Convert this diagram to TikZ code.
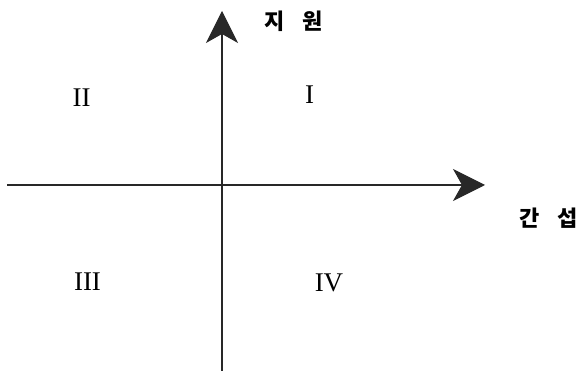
\documentclass[tikz,border=0pt]{standalone}
\usepackage{fontspec}
\setmainfont{Liberation Serif}
\newfontfamily\krfont{Noto Sans CJK KR}
\usetikzlibrary{arrows.meta}
\definecolor{axisgray}{RGB}{40,40,40}
\tikzset{
  axis/.style={draw=axisgray,line width=1.1pt,
               -{Stealth[length=32pt,width=32pt,inset=9pt]}},
  quad/.style={inner sep=0pt,font=\fontsize{27}{27}\selectfont},
  axlabel/.style={inner sep=0pt,font=\krfont\bfseries\fontsize{22}{22}\selectfont},
}

\begin{document}
\begin{tikzpicture}[x=1pt,y=-1pt]
    \useasboundingbox (0,0) rectangle (579,371);
    % axes
    \coordinate (xl) at (7,185);
    \coordinate (xr) at (485,185);
    \coordinate (yb) at (222,371);
    \coordinate (yt) at (222,11);
    \draw[axis] (xl) -- (xr);
    \draw[axis] (yb) -- (yt);
    % axis names
    \node[axlabel] (support) at (294,21) {지\hspace{0.8em}원};
    \node[axlabel] (interf) at (549,218) {간\hspace{0.8em}섭};
    % quadrants
    \node[quad] (q1) at (309.5,94.5) {I};
    \node[quad] (q2) at (81.5,97.5) {II};
    \node[quad] (q3) at (87.5,282) {III};
    \node[quad] (q4) at (329,282.5) {IV};
\end{tikzpicture}
\end{document}
